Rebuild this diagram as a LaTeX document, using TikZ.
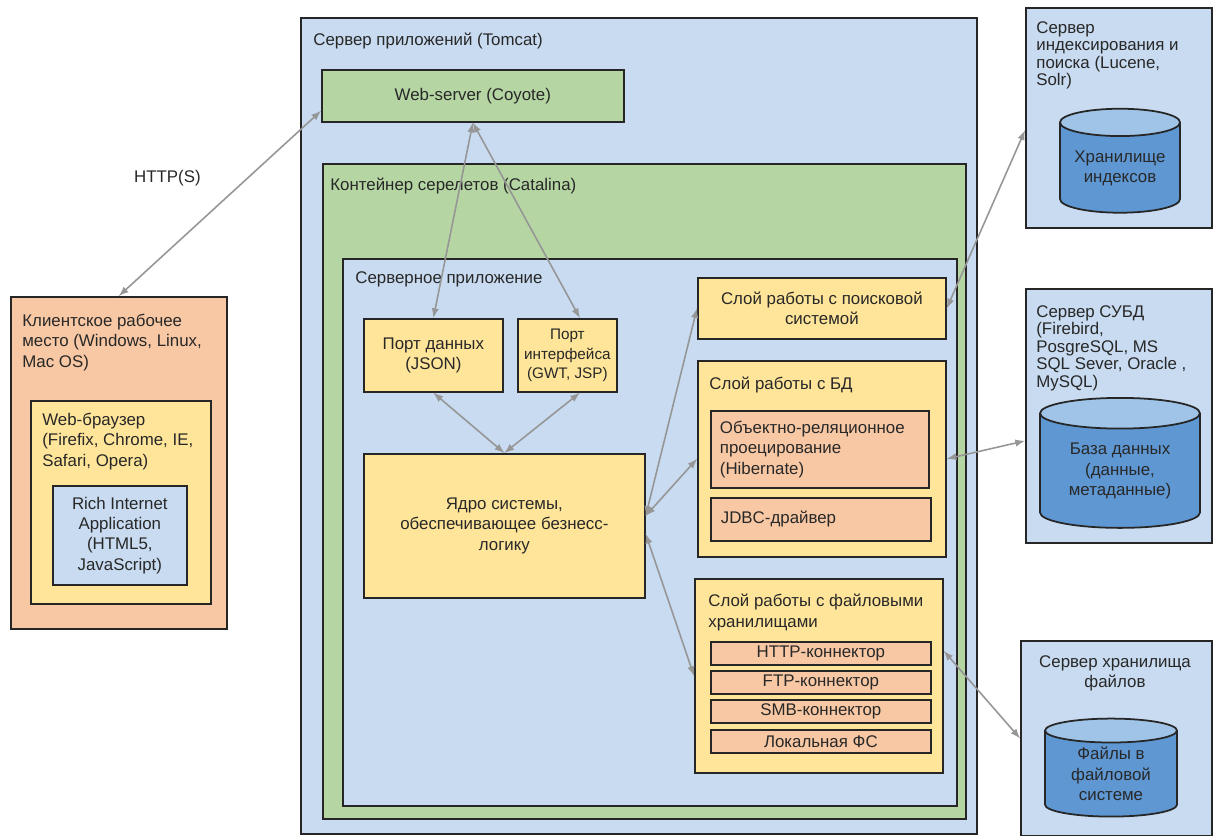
\documentclass[tikz,border=0pt]{standalone}
\usepackage{fontspec}
\setmainfont{Liberation Sans}
\usetikzlibrary{shapes.geometric,positioning}
\definecolor{srvblue}{RGB}{200,219,240}
\definecolor{contgreen}{RGB}{181,214,163}
\definecolor{layeryellow}{RGB}{255,229,153}
\definecolor{partorange}{RGB}{248,200,164}
\definecolor{dbbody}{RGB}{94,151,210}
\definecolor{dbtop}{RGB}{160,196,232}
\definecolor{linkgray}{RGB}{150,150,150}
\definecolor{ink}{RGB}{40,40,40}
\tikzstyle{box} = [draw=black!85, line width=1pt, anchor=north west, inner sep=0pt, align=center, text=ink]
\tikzstyle{title} = [anchor=north west, align=left, inner sep=0pt, text=ink]
\tikzstyle{link} = [<->, >=latex, draw=linkgray, line width=0.9pt]

\begin{document}
\begin{tikzpicture}[x=0.02cm, y=-0.02cm, font=\fontsize{9.6}{11.5}\selectfont]
\tikzstyle{store} = [draw=black!85, line width=1pt, cylinder, shape border rotate=90, aspect=0.3, cylinder uses custom fill, cylinder body fill=dbbody, cylinder end fill=dbtop, align=center, text=ink, inner sep=0pt]
\tikzstyle{tight} = [font=\fontsize{9.6}{10}\selectfont]
\useasboundingbox (0,0) rectangle (1213,835);
\node[box, fill=srvblue, minimum width=13.52cm, minimum height=16.32cm] at (300,17) (tomcat) {};
\node[title] at (313,33) (tomcat title) {Сервер приложений (Tomcat)};
\node[box, fill=contgreen, minimum width=6.04cm, minimum height=1.04cm] at (321,69) (web) {Web-server (Coyote)};
\node[box, fill=contgreen, minimum width=12.86cm, minimum height=13.10cm] at (322,163) (catalina) {};
\node[title] at (330,178) (catalina title) {Контейнер серелетов (Catalina)};
\node[box, fill=srvblue, minimum width=12.28cm, minimum height=10.94cm] at (342,258) (app) {};
\node[title] at (355,271) (app title) {Серверное приложение};
\node[box, fill=layeryellow, minimum width=2.78cm, minimum height=1.46cm] at (363,318) (pdata) {Порт данных\\(JSON)};
\node[box, fill=layeryellow, minimum width=1.98cm, minimum height=1.46cm, font=\fontsize{8.7}{11}\selectfont] at (517,318) (pui) {Порт\\интерфейса\\(GWT, JSP)};
\node[box, fill=layeryellow, minimum width=5.62cm, minimum height=2.88cm] at (363,453) (core) {Ядро системы,\\обеспечивающее безнесс-\\логику};
\node[box, fill=layeryellow, minimum width=4.96cm, minimum height=1.22cm] at (697,277) (search) {Слой работы с поисковой\\системой};
\node[box, fill=layeryellow, minimum width=4.96cm, minimum height=3.92cm] at (697,360) (db) {};
\node[title] at (709,377) (db title) {Слой работы с БД};
\node[box, fill=partorange, minimum width=4.36cm, minimum height=1.54cm, text width=4.0cm, align=left] at (710,410) (orm) {Объектно-реляционное\\проецирование\\(Hibernate)};
\node[box, fill=partorange, minimum width=4.40cm, minimum height=0.86cm, text width=4.0cm, align=left] at (710,497) (jdbc) {JDBC-драйвер};
\node[box, fill=layeryellow, minimum width=4.96cm, minimum height=3.88cm] at (694,578) (file) {};
\node[title] at (708,594) (file title) {Слой работы с файловыми\\хранилищами};
\node[box, fill=partorange, minimum width=4.40cm, minimum height=0.46cm] at (710,641) (http) {HTTP-коннектор};
\node[box, fill=partorange, minimum width=4.40cm, minimum height=0.46cm] at (710,670) (ftp) {FTP-коннектор};
\node[box, fill=partorange, minimum width=4.40cm, minimum height=0.46cm] at (710,699) (smb) {SMB-коннектор};
\node[box, fill=partorange, minimum width=4.40cm, minimum height=0.46cm] at (710,729) (localfs) {Локальная ФС};
\node[box, fill=partorange, minimum width=4.32cm, minimum height=6.64cm] at (10,296) (client) {};
\node[title] at (22,314) (client title) {Клиентское рабочее\\место (Windows, Linux,\\Mac OS)};
\node[box, fill=layeryellow, minimum width=3.60cm, minimum height=4.06cm] at (30,400) (browser) {};
\node[title] at (42,413) (browser title) {Web-браузер\\(Firefix, Chrome, IE,\\Safari, Opera)};
\node[box, fill=srvblue, minimum width=2.68cm, minimum height=1.98cm] at (52,485) (ria) {Rich Internet\\Application\\(HTML5,\\JavaScript)};
\node[box, fill=srvblue, minimum width=3.72cm, minimum height=4.40cm] at (1025,7) (index) {};
\node[title, tight] at (1036,21) (index title) {Сервер\\индексирования и\\поиска (Lucene,\\Solr)};
\node[store, minimum width=2.4cm, minimum height=2.08cm] at (1120,168) (indexdb) {Хранилище\\индексов};
\node[box, fill=srvblue, minimum width=3.72cm, minimum height=5.08cm] at (1025,288) (dbms) {};
\node[title, tight] at (1036,305) (dbms title) {Сервер СУБД\\(Firebird,\\PosgreSQL, MS\\SQL Sever, Oracle ,\\MySQL)};
\node[store, minimum width=3.2cm, minimum height=2.6cm] at (1120,471) (database) {База данных\\(данные,\\метаданные)};
\node[box, fill=srvblue, minimum width=3.82cm, minimum height=3.90cm] at (1020,640) (fileserver) {};
\node[title, anchor=north, align=center] at (1115,655) (fileserver title) {Сервер хранилища\\файлов};
\node[store, minimum width=2.64cm, minimum height=1.96cm] at (1111,774) (filestore) {Файлы в\\файловой\\системе};
\draw[link] (client.north) -- node[pos=0.45, above left=0.4cm and 0.05cm, text=ink] (http label) {HTTP(S)} ([yshift=-0.3cm]web.west);
\draw[link] (web.south) -- (pdata.north);
\draw[link] (web.south) -- ([xshift=0.25cm]pui.north);
\draw[link] (pdata.south) -- (core.north);
\draw[link] ([xshift=0.25cm]pui.south) -- (core.north);
\draw[link] ([yshift=0.2cm]core.east) -- (search.west);
\draw[link] ([yshift=0.2cm]core.east) -- (db.west);
\draw[link] ([yshift=-0.16cm]core.east) -- (file.west);
\draw[link] (search.east) -- ([yshift=-0.25cm]index.west);
\draw[link] (db.east) -- ([yshift=-0.5cm]dbms.west);
\draw[link] ([yshift=0.5cm]file.east) -- (fileserver.west);
\end{tikzpicture}
\end{document}
